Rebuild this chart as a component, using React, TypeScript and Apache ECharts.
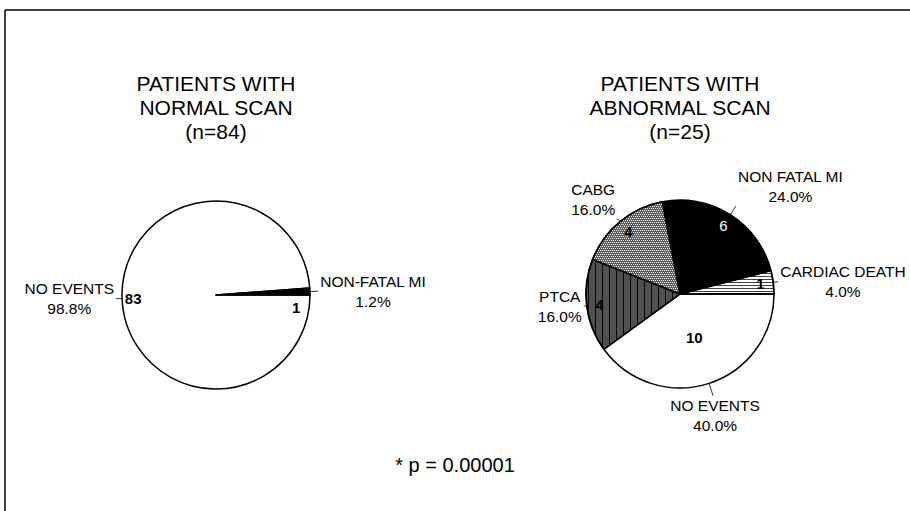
import React, { useEffect, useRef } from 'react';
import * as echarts from 'echarts';

// ---- Data ----
const normalCategories = ['NO EVENTS', 'NON-FATAL MI'];
const normalCounts = [83, 1];
const abnormalCategories = ['NO EVENTS', 'PTCA', 'CABG', 'NON FATAL MI', 'CARDIAC DEATH'];
const abnormalCounts = [10, 4, 4, 6, 1];
const normalTitleLines = ['PATIENTS WITH', 'NORMAL SCAN', '(n=84)'];
const abnormalTitleLines = ['PATIENTS WITH', 'ABNORMAL SCAN', '(n=25)'];
const pValueText = '* p = 0.00001';

// ---- Styles ----
const FONT = '"Liberation Sans", Arial, Helvetica, sans-serif';
const RADIUS = 94;
const LEFT_CENTER = [216, 295];
const RIGHT_CENTER = [680, 294];

const fills: Record<string, any> = {
  'NO EVENTS': { color: '#ffffff' },
  'NON-FATAL MI': { color: '#000000' },
  'NON FATAL MI': { color: '#000000' },
  PTCA: {
    color: '#505050',
    decal: { symbol: 'rect', symbolSize: 1, color: 'rgba(0,0,0,0.9)', dashArrayX: [1, 6], dashArrayY: [4, 0] },
  },
  CABG: {
    color: '#5c5c5c',
    decal: { symbol: 'rect', symbolSize: 1, color: 'rgba(255,255,255,0.95)', dashArrayX: [[1, 1], [0, 1, 1, 0]], dashArrayY: [1, 1] },
  },
  'CARDIAC DEATH': {
    color: '#ffffff',
    decal: { symbol: 'rect', symbolSize: 1, color: 'rgba(0,0,0,0.75)', dashArrayX: [4, 0], dashArrayY: [1, 2] },
  },
};

// inner count label appearance
const darkSlices = new Set(['NON-FATAL MI', 'NON FATAL MI']);

// outer label anchoring tweaks (text alignment relative to the label line end)
const abnormalLabelAnchor: Record<string, any> = {
  CABG: { verticalAlign: 'bottom' },
  'NON FATAL MI': { verticalAlign: 'bottom' },
  'NO EVENTS': { align: 'center', verticalAlign: 'top' },
};
const abnormalLabelLine: Record<string, any> = {
  CABG: { length: 3, length2: 1 },
  'NON FATAL MI': { length: 10, length2: 0 },
  'NO EVENTS': { length: 13, length2: 0 },
  'CARDIAC DEATH': { length: 3, length2: 2 },
  PTCA: { length: 2, length2: 1 },
};
const normalLabelLine: Record<string, any> = {
  'NO EVENTS': { length: 4, length2: 2 },
  'NON-FATAL MI': { length: 6, length2: 2 },
};

const outerFormatter = (p: any) => `{c|${p.name}}\n{c|${p.percent.toFixed(1)}%}`;

function mainSeries(names: string[], counts: number[], center: number[], lineCfg: Record<string, any>, anchor: Record<string, any>) {
  return {
    type: 'pie',
    center,
    radius: RADIUS,
    startAngle: 0,
    clockwise: true,
    avoidLabelOverlap: false,
    silent: true,
    z: 2,
    itemStyle: { borderColor: '#000', borderWidth: 1.5 },
    label: {
      show: true,
      position: 'outside',
      distanceToLabelLine: 2,
      formatter: outerFormatter,
      rich: { c: { align: 'center', fontSize: 15.5, lineHeight: 20, fontFamily: FONT, color: '#000' } },
    },
    labelLine: { show: true, length: 7, length2: 3, lineStyle: { color: '#333', width: 1 } },
    labelLayout: (params: any) => anchor[names[params.dataIndex]] || {},
    emphasis: { disabled: true },
    data: names.map((name, i) => ({
      name,
      value: counts[i],
      itemStyle: { ...fills[name] },
      labelLine: lineCfg[name] ? { ...lineCfg[name] } : undefined,
    })),
  };
}

// count labels drawn inside the slices (transparent ring carrying only labels)
function innerSeries(
  names: string[],
  counts: number[],
  center: number[],
  radius: number[],
  show: (n: string) => boolean,
  edgeItems: Record<string, any>,
) {
  return {
    type: 'pie',
    center,
    radius,
    startAngle: 0,
    clockwise: true,
    avoidLabelOverlap: false,
    silent: true,
    z: 3,
    itemStyle: { color: 'rgba(0,0,0,0)', borderWidth: 0 },
    labelLayout: (params: any) => (edgeItems[names[params.dataIndex]] ? edgeItems[names[params.dataIndex]].layout : {}),
    emphasis: { disabled: true },
    data: names.map((name, i) => {
      const edge = edgeItems[name];
      const onDark = darkSlices.has(name) && !edge;
      return {
        name,
        value: counts[i],
        label: {
          show: show(name),
          position: edge ? 'outside' : 'inside',
          distanceToLabelLine: 0,
          formatter: '{c}',
          fontFamily: FONT,
          fontSize: 15,
          fontWeight: onDark ? 'normal' : 'bold',
          color: onDark ? '#ffffff' : '#000000',
        },
        labelLine: edge ? { show: false, length: edge.length, length2: 0 } : { show: false },
      };
    }),
  };
}

// the "1" of the thin wedge sits just below it, inside the circle
const normalEdgeItems: Record<string, any> = {
  'NON-FATAL MI': { length: -10, layout: { align: 'center', dy: 16 } },
};

export default function App() {
  const ref = useRef<HTMLDivElement>(null);
  useEffect(() => {
    if (!ref.current) return;
    const chart = echarts.init(ref.current, undefined, { renderer: 'svg' });
    const titleStyle = { fontFamily: FONT, fontSize: 21, fontWeight: 'normal', lineHeight: 24, color: '#000' };
    chart.setOption({
      animation: false,
      backgroundColor: '#ffffff',
      title: [
        { text: normalTitleLines.join('\n'), left: LEFT_CENTER[0], top: 71, textAlign: 'center', padding: 0, textStyle: titleStyle },
        { text: abnormalTitleLines.join('\n'), left: RIGHT_CENTER[0], top: 71, textAlign: 'center', padding: 0, textStyle: titleStyle },
        { text: pValueText, left: 455, top: 453, textAlign: 'center', padding: 0, textStyle: { ...titleStyle, fontSize: 20 } },
      ],
      graphic: [
        { type: 'line', shape: { x1: 5, y1: 10, x2: 910, y2: 10 }, style: { stroke: '#000', lineWidth: 1.5 }, silent: true },
        { type: 'line', shape: { x1: 5, y1: 10, x2: 5, y2: 511 }, style: { stroke: '#000', lineWidth: 1.5 }, silent: true },
      ],
      series: [
        mainSeries(normalCategories, normalCounts, LEFT_CENTER, normalLabelLine, {}),
        innerSeries(normalCategories, normalCounts, LEFT_CENTER, [RADIUS * 0.74, RADIUS * 0.96], () => true, normalEdgeItems),
        mainSeries(abnormalCategories, abnormalCounts, RIGHT_CENTER, abnormalLabelLine, abnormalLabelAnchor),
        innerSeries(abnormalCategories, abnormalCounts, RIGHT_CENTER, [RADIUS * 0.66, RADIUS], (n) => n !== 'NO EVENTS', {}),
        innerSeries(abnormalCategories, abnormalCounts, RIGHT_CENTER, [0, RADIUS * 0.92], (n) => n === 'NO EVENTS', {}),
      ],
    });
    return () => chart.dispose();
  }, []);
  return <div ref={ref} style={{ position: 'absolute', left: 0, top: 0, width: 910, height: 511, background: '#fff' }} />;
}
